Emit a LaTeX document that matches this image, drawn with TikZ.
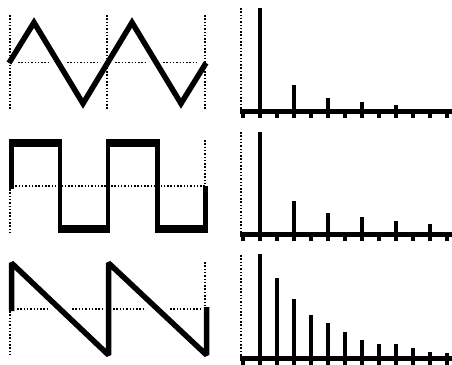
\documentclass[tikz,border=0pt]{standalone}
\begin{document}
\begin{tikzpicture}[x=1pt,y=-1pt,
  guide/.style={line width=1.7pt, dash pattern=on 1.5pt off 1.8pt},
  wave/.style={line width=5.5pt, line join=miter},
  sqv/.style={line width=4.5pt, line join=miter},
  sqh/.style={line width=8pt},
  saw/.style={line width=5.5pt, line join=bevel},
  axisline/.style={line width=4.5pt},
  tickmark/.style={line width=4pt},
  bar/.style={line width=4pt}]
\useasboundingbox (0,0) rectangle (452,364);
% ---------- triangle wave ----------
\foreach \x in {10,107,205} \draw[guide] (\x,15) -- (\x,110);
\foreach \a/\b in {18/50,67/100,115/148,163/197} \draw[guide] (\a,62.5) -- (\b,62.5);
\draw[wave] (9,63) -- (34,22.5) -- (83,103.5) -- (107.5,63) -- (132,22.5) -- (181,103.5) -- (206,63);
% ---------- square wave ----------
\draw[guide] (12,186) -- (205,186);
\draw[guide] (10,189) -- (10,233);
\draw[guide] (205,140) -- (205,185);
\draw[sqv] (11.5,189) -- (11.5,143) -- (60,143) -- (60,229) -- (108,229) -- (108,143) -- (157.5,143) -- (157.5,229) -- (205.5,229) -- (205.5,186);
\draw[sqh] (9.25,143) -- (62.25,143);
\draw[sqh] (57.75,229) -- (110.25,229);
\draw[sqh] (105.75,143) -- (159.75,143);
\draw[sqh] (155.25,229) -- (207.75,229);
% ---------- sawtooth wave ----------
\draw[guide] (10,311) -- (10,355);
\draw[guide] (205,262) -- (205,306);
\foreach \a/\b in {17/47,72/102,113/145,170/202} \draw[guide] (\a,309) -- (\b,309);
\draw[saw] (11.5,311) -- (11.5,263) -- (108.5,355) -- (108.5,263) -- (206.5,355) -- (206.5,307);
% ---------- spectra ----------
\foreach \yb/\ytop in {111.5/8, 234.5/132, 358.5/255}{
  \draw[guide] (241,\ytop) -- (241,\yb-2);
  \draw[axisline] (240,\yb) -- (452,\yb);
  \foreach \k in {0,...,12} \draw[tickmark] (243+17*\k,\yb) -- (243+17*\k,\yb+6);
}
% triangle spectrum
\foreach \k/\t in {1/8,3/85,5/98,7/102,9/105} \draw[bar] (243+17*\k,\t) -- (243+17*\k,117.5);
% square spectrum
\foreach \k/\t in {1/132,3/201,5/213,7/217,9/221,11/224} \draw[bar] (243+17*\k,\t) -- (243+17*\k,240.5);
% sawtooth spectrum
\foreach \k/\t in {1/254,2/278,3/299,4/315,5/323,6/332,7/340,8/344,9/344,10/348,11/352,12/353} \draw[bar] (243+17*\k,\t) -- (243+17*\k,364);
\end{tikzpicture}
\end{document}
